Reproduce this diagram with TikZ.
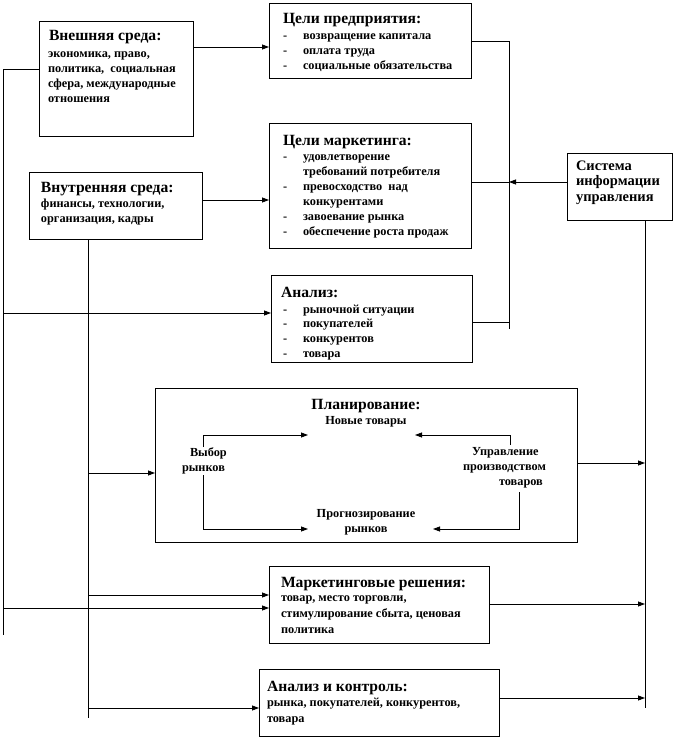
\documentclass[tikz,border=0pt]{standalone}
\usepackage{fontspec}
\setmainfont{Liberation Serif}
\usetikzlibrary{arrows.meta}
\newcommand\bodyfont{\fontsize{12.3}{15}\selectfont\bfseries}
\newcommand\ttlfont{\fontsize{15.6}{18}\selectfont\bfseries}
\newcommand\mylines[1]{\begin{tabular}[t]{@{}l@{}}#1\end{tabular}}
\newcommand\itm[1]{\makebox[20pt][l]{-}#1}
\tikzset{
 box/.style={draw, line width=1pt, inner sep=0pt, outer sep=0pt, anchor=north west},
 txt/.style={inner sep=0pt, outer sep=0pt, anchor=base west, font=\bodyfont},
 ttl/.style={inner sep=0pt, outer sep=0pt, anchor=base west, font=\ttlfont},
 conn/.style={line width=0.8pt},
 arr/.style={conn, -{Triangle[length=7pt,width=5pt]}},
}
\begin{document}
\begin{tikzpicture}[x=1pt,y=-1pt]
\useasboundingbox (0,0) rectangle (676,740);
% boxes
\node[box, minimum width=154pt, minimum height=115pt] (ext) at (39,21) {};
\node[box, minimum width=173pt, minimum height=67pt] (intl) at (29,172) {};
\node[box, minimum width=202pt, minimum height=75pt] (gEnt) at (269,3) {};
\node[box, minimum width=202pt, minimum height=125pt] (gMkt) at (269,123) {};
\node[box, minimum width=105pt, minimum height=67pt] (info) at (567,153) {};
\node[box, minimum width=201pt, minimum height=87pt] (anl) at (271,275) {};
\node[box, minimum width=422pt, minimum height=154pt] (plan) at (155,388) {};
\node[box, minimum width=220pt, minimum height=77pt] (dec) at (269,566) {};
\node[box, minimum width=240pt, minimum height=67pt] (ctl) at (259,669) {};
% texts
\node[ttl] (extT) at (49,40) {Внешняя среда:};
\node[txt] (extB) at (48,57) {\mylines{экономика, право,\\политика,\hspace{0.5em}социальная\\сфера, международные\\отношения}};
\node[ttl] (intlT) at (41,192) {Внутренняя среда:};
\node[txt] (intlB) at (41,207) {\mylines{финансы, технологии,\\организация, кадры}};
\node[ttl] (gEntT) at (283,23) {Цели предприятия:};
\node[txt] (gEntB) at (283,39) {\mylines{\itm{возвращение капитала}\\\itm{оплата труда}\\\itm{социальные обязательства}}};
\node[ttl] (gMktT) at (283,145) {Цели маркетинга:};
\node[txt] (gMktB) at (283,160) {\mylines{\itm{удовлетворение}\\\hspace{20pt}требований потребителя\\\itm{превосходство\hspace{0.5em}над}\\\hspace{20pt}конкурентами\\\itm{завоевание рынка}\\\itm{обеспечение роста продаж}}};
\node[txt, font=\fontsize{14.5}{15.5}\selectfont\bfseries] (infoT) at (576,170) {\mylines{Система\\информации\\управления}};
\node[ttl] (anlT) at (281,297) {Анализ:};
\node[txt, font=\fontsize{12.3}{14.8}\selectfont\bfseries] (anlB) at (283,313) {\mylines{\itm{рыночной ситуации}\\\itm{покупателей}\\\itm{конкурентов}\\\itm{товара}}};
\node[ttl, anchor=base] (planT) at (366,409) {Планирование:};
\node[txt, anchor=base] (newP) at (366,424) {Новые товары};
\node[txt] (choose) at (182,456) {\mylines{\hspace{8pt}Выбор\\рынков}};
\node[txt] (manage) at (463,455) {\mylines{\hspace{9pt}Управление\\производством\\\hspace{36pt}товаров}};
\node[txt, anchor=base] (fcst) at (366,517) {\begin{tabular}[t]{@{}c@{}}Прогнозирование\\рынков\end{tabular}};
\node[ttl] (decT) at (281,587) {Маркетинговые решения:};
\node[txt, font=\fontsize{12.3}{16}\selectfont\bfseries] (decB) at (281,601) {\mylines{товар, место торговли,\\стимулирование сбыта, ценовая\\политика}};
\node[ttl] (ctlT) at (267,691) {Анализ и контроль:};
\node[txt, font=\fontsize{12.3}{16}\selectfont\bfseries] (ctlB) at (267,706) {\mylines{рынка, покупателей, конкурентов,\\товара}};
% left trunks
\coordinate (L1t) at (3,69);
\coordinate (L1b) at (3,635);
\coordinate (L2b) at (88,718);
\draw[conn] (ext.west |- L1t) -- (L1t) -- (L1b);
\draw[conn] (intl.south -| L2b) -- (L2b);
\draw[arr] (ext.east |- 0,47) -- (gEnt.west |- 0,47);
\draw[arr] (intl.east |- 0,200) -- (gMkt.west |- 0,200);
\draw[arr] (L1b |- 0,313) -- (anl.west |- 0,313);
\draw[arr] (L1b |- 0,608) -- (dec.west |- 0,608);
\draw[arr] (L2b |- 0,473) -- (plan.west |- 0,473);
\draw[arr] (L2b |- 0,595) -- (dec.west |- 0,595);
\draw[arr] (L2b |- 0,708) -- (ctl.west |- 0,708);
% right trunk 1
\coordinate (R1b) at (509,329);
\draw[conn] (gEnt.east |- 0,41) -- (R1b |- 0,41) -- (R1b);
\draw[conn] (gMkt.east |- 0,182) -- (R1b |- 0,182);
\draw[conn] (anl.east |- 0,322) -- (R1b |- 0,322);
\draw[arr] (info.west |- 0,182) -- (R1b |- 0,182);
% right trunk 2
\coordinate (R2b) at (645,708);
\draw[conn] (info.south -| R2b) -- (R2b);
\draw[arr] (plan.east |- 0,463) -- (R2b |- 0,463);
\draw[arr] (dec.east |- 0,604) -- (R2b |- 0,604);
\draw[arr] (ctl.east |- 0,698) -- (R2b |- 0,698);
% planning inner arrows
\coordinate (pA) at (203,447); \coordinate (pB) at (308,435);
\coordinate (pC) at (203,475); \coordinate (pD) at (308,529);
\coordinate (pE) at (510,445); \coordinate (pF) at (415,435);
\coordinate (pG) at (519,492); \coordinate (pH) at (433,529);
\draw[arr] (pA) |- (pB);
\draw[arr] (pC) |- (pD);
\draw[arr] (pE) |- (pF);
\draw[arr] (pG) |- (pH);
\end{tikzpicture}
\end{document}
